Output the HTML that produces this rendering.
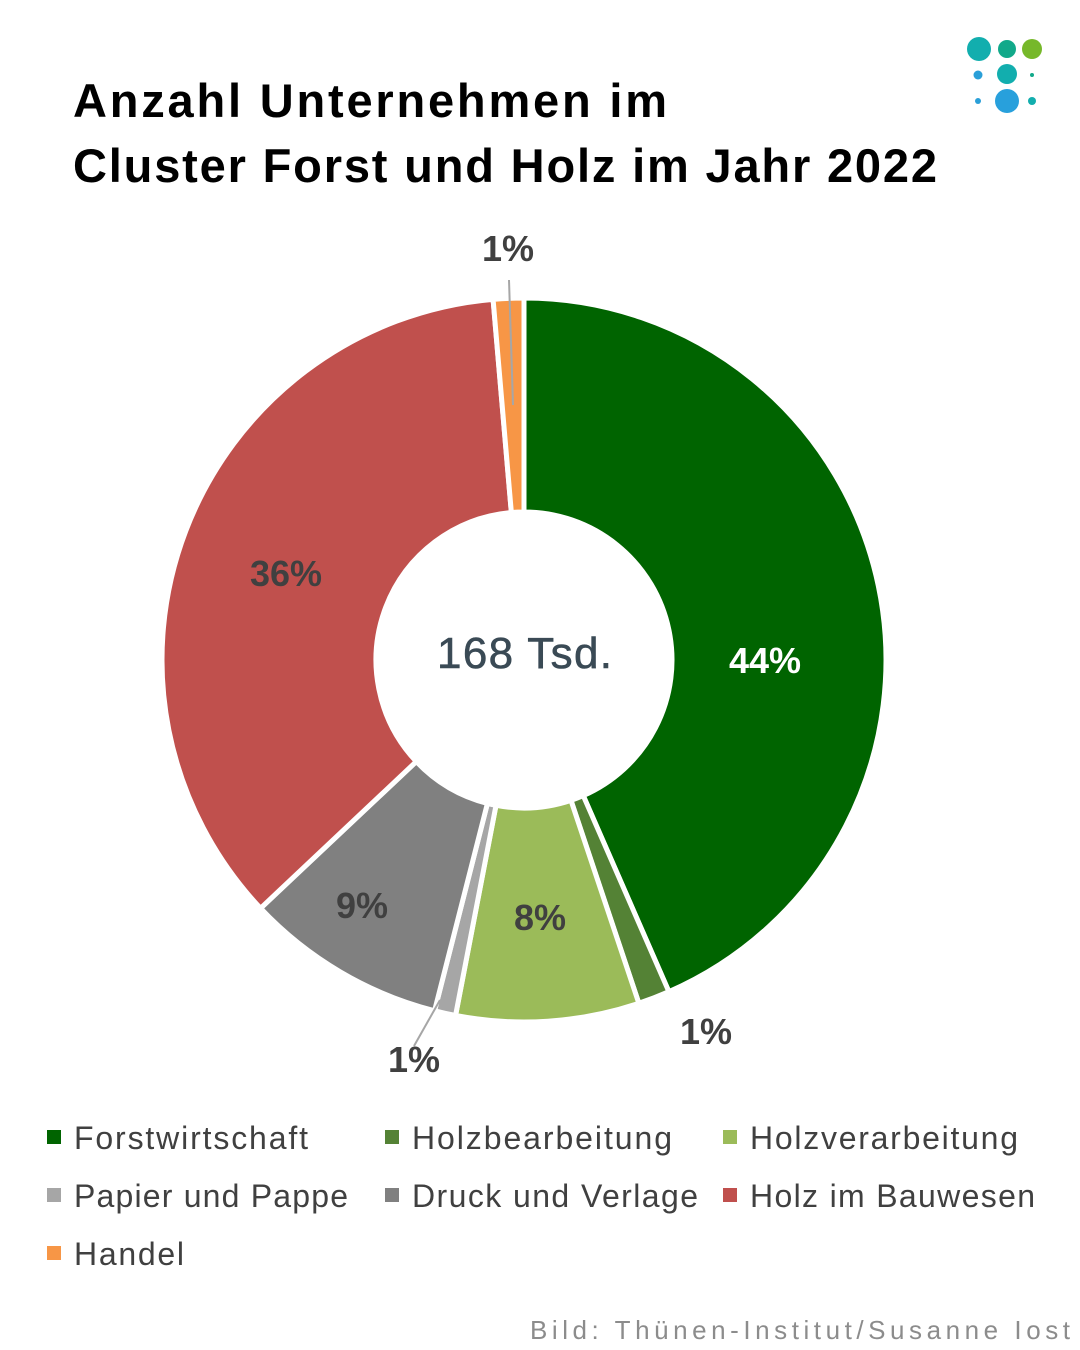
<!DOCTYPE html>
<html><head><meta charset="utf-8"><style>
body{margin:0;background:#fff;}
#c{position:relative;width:1080px;height:1350px;overflow:hidden;font-family:"Liberation Sans",sans-serif;}
</style></head><body><div id="c">
<svg id="s" width="1080" height="1350" xmlns="http://www.w3.org/2000/svg">
<text x="73" y="117" font-size="47" font-weight="bold" fill="#000" textLength="594" lengthAdjust="spacing">Anzahl Unternehmen im</text>
<text x="73" y="182" font-size="47" font-weight="bold" fill="#000" textLength="864" lengthAdjust="spacing">Cluster Forst und Holz im Jahr 2022</text>
<circle cx="979" cy="49" r="12" fill="#12AEAE"/>
<circle cx="1007" cy="49" r="9" fill="#12A98A"/>
<circle cx="1032" cy="49" r="10" fill="#76B82A"/>
<circle cx="978" cy="75" r="4.5" fill="#2A9FD8"/>
<circle cx="1007" cy="74" r="10" fill="#12AEAE"/>
<circle cx="1032" cy="75" r="2" fill="#12A98A"/>
<circle cx="978" cy="101" r="3" fill="#2A9FD8"/>
<circle cx="1007" cy="101" r="12" fill="#28A0DC"/>
<circle cx="1032" cy="101" r="4" fill="#12AEAE"/>
<g id="pie"></g>
<line x1="509" y1="280" x2="513" y2="405" stroke="#a6a6a6" stroke-width="2"/>
<line x1="440" y1="1000" x2="414" y2="1046" stroke="#a6a6a6" stroke-width="2"/>
<g font-weight="bold" font-size="36" text-anchor="middle" fill="#404040">
<text x="765" y="673" fill="#fff">44%</text>
<text x="286" y="586">36%</text>
<text x="362" y="918">9%</text>
<text x="540" y="930">8%</text>
<text x="508" y="261">1%</text>
<text x="706" y="1044">1%</text>
<text x="414" y="1072">1%</text>
</g>
<text x="437" y="668" font-size="44" fill="#3a4a55" textLength="175" lengthAdjust="spacing" stroke="#3a4a55" stroke-width="0.6">168 Tsd.</text>
<g font-size="32" fill="#404040">
<rect x="47" y="1130" width="14" height="14" fill="#006400"/><text x="74" y="1149" textLength="234">Forstwirtschaft</text>
<rect x="385" y="1130" width="14" height="14" fill="#548235"/><text x="412" y="1149" textLength="260">Holzbearbeitung</text>
<rect x="723" y="1130" width="14" height="14" fill="#9BBB59"/><text x="750" y="1149" textLength="268">Holzverarbeitung</text>
<rect x="47" y="1188" width="14" height="14" fill="#A6A6A6"/><text x="74" y="1207" textLength="274">Papier und Pappe</text>
<rect x="385" y="1188" width="14" height="14" fill="#808080"/><text x="412" y="1207" textLength="286">Druck und Verlage</text>
<rect x="723" y="1188" width="14" height="14" fill="#C0504D"/><text x="750" y="1207" textLength="285">Holz im Bauwesen</text>
<rect x="47" y="1246" width="14" height="14" fill="#F79646"/><text x="74" y="1265" textLength="110">Handel</text>
</g>
<text x="530" y="1339" font-size="26" fill="#8c8c8c" textLength="540" lengthAdjust="spacing">Bild: Thünen-Institut/Susanne Iost</text>
</svg>
<script>
var cx=524,cy=660,R=362,r=148;
var seg=[[0,156.4,"#006400"],[156.4,161.5,"#548235"],[161.5,190.9,"#9BBB59"],[190.9,194.3,"#A6A6A6"],[194.3,226.7,"#808080"],[226.7,355.1,"#C0504D"],[355.1,360,"#F79646"]];
function p(a,rr){a=a*Math.PI/180;return [cx+rr*Math.sin(a),cy-rr*Math.cos(a)];}
var g=document.getElementById("pie"),h="";
seg.forEach(function(s){var a=s[0],b=s[1],l=(b-a)>180?1:0;
var p1=p(a,R),p2=p(b,R),p3=p(b,r),p4=p(a,r);
h+='<path d="M'+p1+' A'+R+' '+R+' 0 '+l+' 1 '+p2+' L'+p3+' A'+r+' '+r+' 0 '+l+' 0 '+p4+'Z" fill="'+s[2]+'" stroke="#fff" stroke-width="5" stroke-linejoin="round"/>';});
g.innerHTML=h;
</script>
</div></body></html>
